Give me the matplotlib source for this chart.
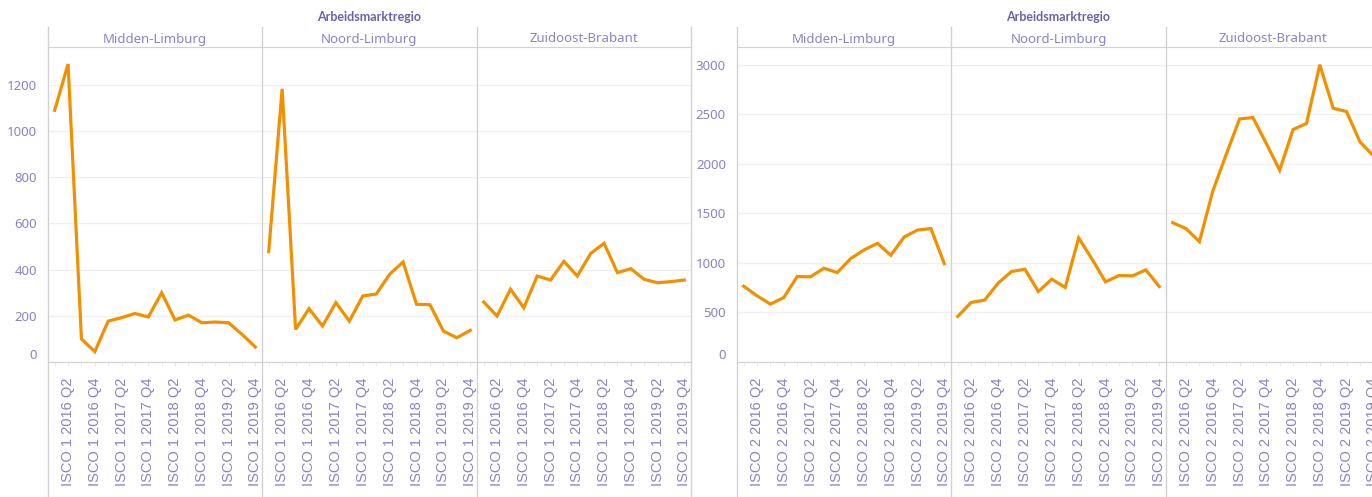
import numpy as np
import matplotlib.pyplot as plt
from matplotlib.lines import Line2D

# quarters on the x axis
years = [2016, 2017, 2018, 2019]
quarters = ['Q1', 'Q2', 'Q3', 'Q4']
regions = ['Midden-Limburg', 'Noord-Limburg', 'Zuidoost-Brabant']

# ISCO 1 values per region, 2016 Q1 .. 2019 Q4
isco1_midden = [1090, 1290, 100, 45, 177, 192, 210, 195, 300, 182, 203, 170, 173, 170, 120, 65]
isco1_noord = [478, 1183, 141, 231, 156, 257, 177, 286, 294, 380, 433, 250, 248, 134, 105, 137]
isco1_zuidoost = [260, 199, 315, 235, 372, 355, 436, 372, 470, 514, 387, 404, 358, 343, 348, 355]

# ISCO 2 values per region
isco2_midden = [765, 668, 584, 651, 862, 860, 946, 903, 1044, 1131, 1198, 1077, 1262, 1332, 1346, 993]
isco2_noord = [460, 601, 624, 795, 913, 936, 711, 836, 752, 1252, 1037, 809, 873, 869, 930, 762]
isco2_zuidoost = [1406, 1346, 1215, 1725, 2094, 2453, 2467, 2205, 1936, 2346, 2406, 3000, 2561, 2527, 2222, 2081]

isco1_ticks = [0, 200, 400, 600, 800, 1000, 1200]
isco2_ticks = [0, 500, 1000, 1500, 2000, 2500, 3000]

W, H = 1372, 497
fig = plt.figure(figsize=(W / 100, H / 100), dpi=100)

line_col = '#f29100'
tick_col = '#8a83c4'
head_col = '#8a84c4'
title_col = '#6a62aa'
sep_col = '#d2d2d2'
grid_col = '#f0f0f0'


def px_axes(x0, x1, y_top, y_bot):
    return fig.add_axes([x0 / W, 1 - y_bot / H, (x1 - x0) / W, (y_bot - y_top) / H])


def vline(x, y0=27, y1=497):
    fig.add_artist(Line2D([x / W, x / W], [1 - y0 / H, 1 - y1 / H],
                          transform=fig.transFigure, color=sep_col, lw=1))


groups = [
    ('ISCO 1', [isco1_midden, isco1_noord, isco1_zuidoost], isco1_ticks, 1364, [48, 262, 477, 691]),
    ('ISCO 2', [isco2_midden, isco2_noord, isco2_zuidoost], isco2_ticks, 3179, [737, 951, 1166, 1380]),
]

for isco, series, yticks, ytop, edges in groups:
    labels = ['%s %d %s' % (isco, y, q) for y in years for q in quarters]
    x = np.arange(len(labels))
    for i, vals in enumerate(series):
        ax = px_axes(edges[i], edges[i + 1], 47, 362)
        ax.plot(x, vals, color=line_col, lw=2.3, solid_joinstyle='miter')
        ax.set_xlim(-0.5, len(labels) - 0.5)
        ax.set_ylim(0, ytop)
        ax.set_yticks(yticks)
        ax.yaxis.grid(True, color=grid_col, lw=1)
        ax.set_axisbelow(True)
        for s in ['left', 'right']:
            ax.spines[s].set_visible(False)
        ax.spines['top'].set_color(sep_col)
        ax.spines['bottom'].set_color(sep_col)

        ax.set_xticks(x[1::2])
        ax.set_xticklabels(labels[1::2], rotation=90, fontsize=10.5,
                           family='Liberation Sans', color=tick_col)
        ax.set_xticks(x, minor=True)
        ax.tick_params(axis='x', which='both', length=3, color='#e6e6e6', pad=8.5)

        if i == 0:
            ax.set_yticklabels([str(t) for t in yticks], fontsize=9.5,
                               family='Noto Sans', color=tick_col)
            ax.get_yticklabels()[0].set_va('bottom')
            ax.tick_params(axis='y', length=0, pad=8)
        else:
            ax.tick_params(axis='y', length=0, labelleft=False)

        ax.text(0.5, 1.0 + 8 / 315, regions[i], transform=ax.transAxes, ha='center',
                va='center', fontsize=9.5, family='Noto Sans', color=head_col)

    for e in edges:
        vline(e)
    fig.text((edges[0] + edges[-1]) / 2 / W, 1 - 17 / H, 'Arbeidsmarktregio', ha='center',
             va='center', fontsize=9, family='Lato', weight='bold', color=title_col)

fig.savefig('out.png', dpi=100)
